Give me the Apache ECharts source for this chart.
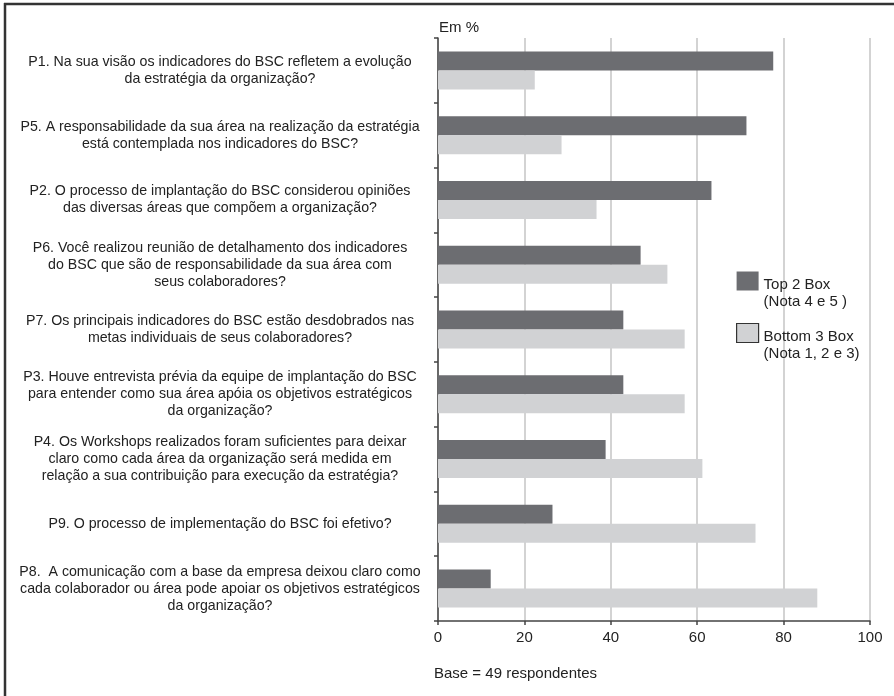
<!DOCTYPE html>
<html>
<head>
<meta charset="utf-8">
<script src="https://cdn.jsdelivr.net/npm/echarts@6/dist/echarts.min.js"></script>
<style>
html,body{margin:0;padding:0;background:#fff;}
#chart{width:894px;height:696px;}
</style>
</head>
<body>
<div id="chart"></div>
<script>
var categories = [
  "P1. Na sua visão os indicadores do BSC refletem a evolução\nda estratégia da organização?",
  "P5. A responsabilidade da sua área na realização da estratégia\nestá contemplada nos indicadores do BSC?",
  "P2. O processo de implantação do BSC considerou opiniões\ndas diversas áreas que compõem a organização?",
  "P6. Você realizou reunião de detalhamento dos indicadores\ndo BSC que são de responsabilidade da sua área com\nseus colaboradores?",
  "P7. Os principais indicadores do BSC estão desdobrados nas\nmetas individuais de seus colaboradores?",
  "P3. Houve entrevista prévia da equipe de implantação do BSC\npara entender como sua área apóia os objetivos estratégicos\nda organização?",
  "P4. Os Workshops realizados foram suficientes para deixar\nclaro como cada área da organização será medida em\nrelação a sua contribuição para execução da estratégia?",
  "P9. O processo de implementação do BSC foi efetivo?",
  "P8.  A comunicação com a base da empresa deixou claro como\ncada colaborador ou área pode apoiar os objetivos estratégicos\nda organização?"
];
var top2Box = [77.6, 71.4, 63.3, 46.9, 42.9, 42.9, 38.8, 26.5, 12.2];
var bottom3Box = [22.4, 28.6, 36.7, 53.1, 57.1, 57.1, 61.2, 73.5, 87.8];
var seriesNames = ["Top 2 Box\n(Nota 4 e 5 )", "Bottom 3 Box\n(Nota 1, 2 e 3)"];
var xTicks = [0, 20, 40, 60, 80, 100];

var chart = echarts.init(document.getElementById('chart'), null, {renderer: 'canvas'});
var font = 'Liberation Sans, Arial, sans-serif';
chart.setOption({
  animation: false,
  textStyle: {fontFamily: font},
  title: [
    {text: 'Em %', left: 439, top: 20, padding: 0, textStyle: {fontSize: 15, fontWeight: 'normal', color: '#222', fontFamily: font}},
    {text: 'Base = 49 respondentes', left: 434, top: 666, padding: 0, textStyle: {fontSize: 15, fontWeight: 'normal', color: '#222', fontFamily: font}}
  ],
  graphic: [
    {type: 'line', shape: {x1: 5, y1: 3, x2: 5, y2: 696}, style: {stroke: '#333', lineWidth: 2.5}},
    {type: 'line', shape: {x1: 4, y1: 4, x2: 894, y2: 4}, style: {stroke: '#333', lineWidth: 2.5}}
  ],
  legend: {
    orient: 'vertical',
    left: 731,
    top: 258,
    itemWidth: 22,
    itemHeight: 19,
    itemGap: 6,
    icon: 'rect',
    formatter: function (name) {
      return '{e| }\n' + name.split('\n').map(function (l) { return '{t|' + l + '}'; }).join('\n');
    },
    textStyle: {
      fontSize: 15, color: '#222', fontFamily: font,
      rich: {
        e: {fontSize: 2, lineHeight: 24},
        t: {fontSize: 15, lineHeight: 17, color: '#222', fontFamily: font}
      }
    },
    data: [
      {name: seriesNames[0]},
      {name: seriesNames[1], itemStyle: {borderColor: '#333', borderWidth: 1.2}}
    ]
  },
  grid: {left: 438, right: 24, top: 38, bottom: 75, containLabel: false},
  xAxis: {
    type: 'value',
    min: 0, max: 100, interval: 20,
    axisLine: {show: true, lineStyle: {color: '#444', width: 1.5}},
    axisTick: {show: true, length: 4, lineStyle: {color: '#444', width: 1.5}},
    axisLabel: {fontSize: 15, color: '#222', margin: 9, fontFamily: font,
      formatter: function (v) { return xTicks.indexOf(v) >= 0 ? String(v) : ''; }},
    splitLine: {show: true, lineStyle: {color: '#c4c4c4', width: 1.5}}
  },
  yAxis: {
    type: 'category',
    inverse: true,
    data: categories,
    axisLine: {show: true, lineStyle: {color: '#444', width: 1.5}},
    axisTick: {show: true, length: 4, lineStyle: {color: '#444', width: 1.5}},
    axisLabel: {fontSize: 14.2, lineHeight: 17, color: '#222', align: 'center', margin: 218, fontFamily: font}
  },
  series: [
    {name: seriesNames[0], type: 'bar', data: top2Box, barWidth: 19, barGap: '0%',
      itemStyle: {color: '#6c6d71'}},
    {name: seriesNames[1], type: 'bar', data: bottom3Box, barWidth: 19, barGap: '0%',
      itemStyle: {color: '#d1d2d4'}}
  ]
});
</script>
</body>
</html>
